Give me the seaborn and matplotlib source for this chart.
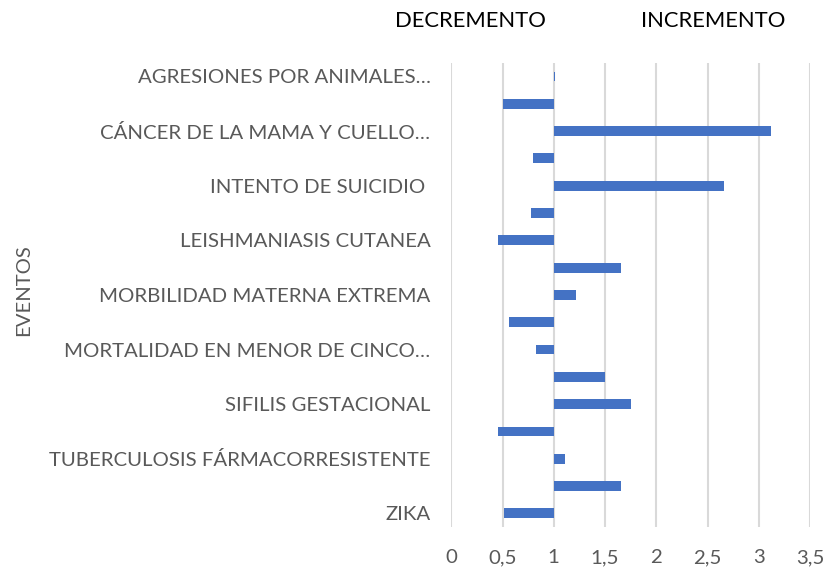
import pandas as pd
import numpy as np
import matplotlib
matplotlib.use("Agg")
import matplotlib.pyplot as plt
import seaborn as sns
from matplotlib.ticker import FuncFormatter

# eventos (only every other label is shown in the source chart)
eventos = [
    "AGRESIONES POR ANIMALES…", "",
    "CÁNCER DE LA MAMA Y CUELLO…", "",
    "INTENTO DE SUICIDIO ", "",
    "LEISHMANIASIS CUTANEA", "",
    "MORBILIDAD MATERNA EXTREMA", "",
    "MORTALIDAD EN MENOR DE CINCO…", "",
    "SIFILIS GESTACIONAL", "",
    "TUBERCULOSIS FÁRMACORRESISTENTE", "",
    "ZIKA",
]
razon = [1.01, 0.50, 3.12, 0.80, 2.66, 0.78, 0.46, 1.66, 1.22,
         0.56, 0.83, 1.50, 1.75, 0.46, 1.11, 1.66, 0.51]
base = 1.0

df = pd.DataFrame({"id": [str(i) for i in range(len(eventos))],
                   "evento": eventos,
                   "valor": np.array(razon) - base})

sns.set_style("white")
plt.rcParams["font.family"] = ["Lato", "DejaVu Sans"]

fig = plt.figure(figsize=(8.25, 5.71), dpi=100)
ax = fig.add_axes([0.547, 0.077, 0.435, 0.813])

sns.barplot(data=df, x="valor", y="id", orient="h", color="#4472C4",
            saturation=1, width=0.36, ax=ax, zorder=3, linewidth=0)

# axis is shifted so the bars start at 1
ax.set_xlim(-base, 3.5 - base)
ax.set_xticks(np.arange(0, 3.51, 0.5) - base)
ax.xaxis.set_major_formatter(FuncFormatter(
    lambda v, p: f"{v + base:g}".replace(".", ",")))
ax.set_ylim(len(eventos) - 0.5, -0.5)
ax.set_yticks(range(len(eventos)))
ax.set_yticklabels(eventos)
ax.grid(axis="x", color="#D9D9D9", linewidth=1.5, zorder=0)
for s in ax.spines.values():
    s.set_visible(False)
ax.tick_params(axis="both", length=0, labelsize=14.7, colors="#595959")
ax.tick_params(axis="y", pad=15)
ax.tick_params(axis="x", pad=16)
ax.set_xlabel("")
ax.set_ylabel("")

fig.text(24 / 825, 1 - 290 / 571, "EVENTOS", rotation=90, ha="center",
         va="center", fontsize=14.6, color="#595959")
fig.text(470 / 825, 1 - 21 / 571, "DECREMENTO", ha="center", va="center",
         fontsize=15.8, color="black")
fig.text(713 / 825, 1 - 21 / 571, "INCREMENTO", ha="center", va="center",
         fontsize=15.8, color="black")

fig.savefig("out.png", dpi=100)
